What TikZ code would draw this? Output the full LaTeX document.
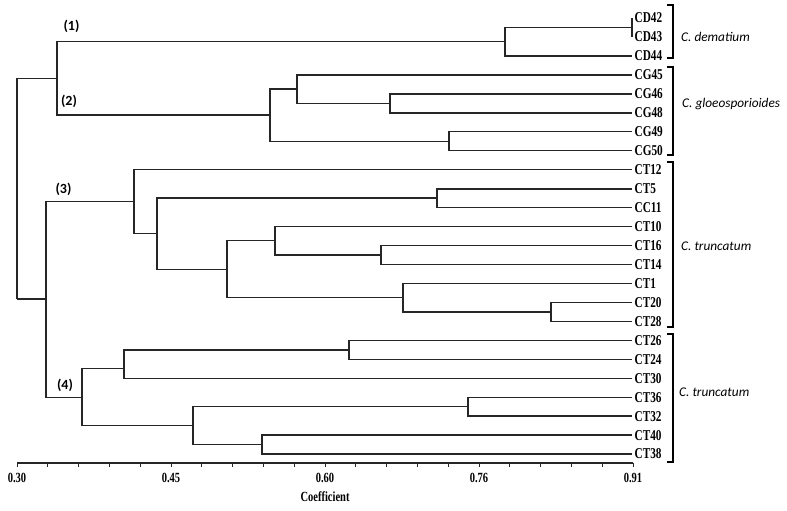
\documentclass[tikz,border=0pt]{standalone}
\usepackage{graphicx}
\usepackage{fontspec}
\setmainfont{Liberation Serif}
\newfontfamily\spfont{Carlito}
\newcommand{\narrowtext}[2]{\scalebox{#1}[1]{#2}}
\begin{document}
\begin{tikzpicture}[x=1pt,y=-1pt,
  branch/.style={draw=black!85,line width=1.4pt},
  thickbranch/.style={draw=black!85,line width=2pt},
  leaflabel/.style={anchor=west,inner sep=0pt,font=\bfseries\fontsize{15}{15}\selectfont},
  species/.style={anchor=west,inner sep=0pt,font=\spfont\itshape\fontsize{13.3}{14}\selectfont},
  clabel/.style={inner sep=0pt,font=\spfont\bfseries\fontsize{14}{14}\selectfont},
  bracket/.style={draw=black,line width=1.6pt},
  ticklabel/.style={inner sep=0pt,font=\bfseries\fontsize{14}{14}\selectfont}]
\useasboundingbox (0,0) rectangle (787,511);
% leaves
\def\lx{632}
\foreach \name/\txt [count=\i from 0] in {L0/CD42,L1/CD43,L2/CD44,L3/CG45,L4/CG46,L5/CG48,L6/CG49,L7/CG50,L8/CT12,L9/CT5,L10/CC11,L11/CT10,L12/CT16,L13/CT14,L14/CT1,L15/CT20,L16/CT28,L17/CT26,L18/CT24,L19/CT30,L20/CT36,L21/CT32,L22/CT40,L23/CT38}{
  \coordinate (\name) at (\lx,{18+\i*18.96});
  \node[leaflabel] (\name t) at (634.5,{18+\i*18.96}) {\narrowtext{0.75}{\txt}};
}
% internal nodes
\coordinate (a) at (632,{18+0.5*18.96});
\coordinate (b) at (505,{(18+0.5*18.96+18+2*18.96)/2});
\coordinate (c) at (390,{18+4.5*18.96});
\coordinate (d) at (297,{(18+3*18.96+18+4.5*18.96)/2});
\coordinate (e) at (449,{18+6.5*18.96});
\coordinate (f) at (270,{(18+3.75*18.96+18+6.5*18.96)/2});
\coordinate (g) at (57,{(18+1.25*18.96+18+5.125*18.96)/2});
\coordinate (h) at (437,{18+9.5*18.96});
\coordinate (i) at (381,{18+12.5*18.96});
\coordinate (j) at (275,{18+11.75*18.96});
\coordinate (k) at (551,{18+15.5*18.96});
\coordinate (l) at (403,{18+14.75*18.96});
\coordinate (m) at (227,{18+13.25*18.96});
\coordinate (n) at (157,{18+11.375*18.96});
\coordinate (o) at (134,{18+9.6875*18.96});
\coordinate (p) at (349,{18+17.5*18.96});
\coordinate (q) at (124,{18+18.5*18.96});
\coordinate (r) at (468,{18+20.5*18.96});
\coordinate (s) at (262,{18+22.5*18.96});
\coordinate (t) at (193,{18+21.5*18.96});
\coordinate (u) at (82,{18+20*18.96});
\coordinate (v) at (46,{18+14.84375*18.96});
\coordinate (w) at (17,{18+14.84375*18.96});
\coordinate (wt) at (17,{18+3.1875*18.96});
% branches
\draw[branch] (a) |- (L0); \draw[branch] (a) |- (L1);
\draw[branch] (b) |- (a); \draw[branch] (b) |- (L2);
\draw[branch] (c) |- (L4); \draw[branch] (c) |- (L5);
\draw[branch] (d) |- (L3); \draw[branch] (d) |- (c);
\draw[branch] (e) |- (L6); \draw[branch] (e) |- (L7);
\draw[branch] (f) |- (d); \draw[branch] (f) |- (e);
\draw[branch] (g) |- (b); \draw[branch] (g) |- (f);
\draw[thickbranch] (h) |- (L9); \draw[branch] (h) |- (L10);
\draw[branch] (i) |- (L12); \draw[branch] (i) |- (L13);
\draw[branch] (j) |- (L11); \draw[branch] (j) |- (i);
\draw[branch] (k) |- (L15); \draw[branch] (k) |- (L16);
\draw[branch] (l) |- (L14); \draw[thickbranch] (l) |- (k);
\draw[branch] (m) |- (j); \draw[branch] (m) |- (l);
\draw[branch] (n) |- (h); \draw[branch] (n) |- (m);
\draw[branch] (o) |- (L8); \draw[branch] (o) |- (n);
\draw[branch] (p) |- (L17); \draw[branch] (p) |- (L18);
\draw[branch] (q) |- (p); \draw[branch] (q) |- (L19);
\draw[branch] (r) |- (L20); \draw[branch] (r) |- (L21);
\draw[thickbranch] (s) |- (L22); \draw[branch] (s) |- (L23);
\draw[branch] (t) |- (r); \draw[branch] (t) |- (s);
\draw[branch] (u) |- (q); \draw[branch] (u) |- (t);
\draw[branch] (v) |- (o); \draw[branch] (v) |- (u);
\draw[branch] (wt) |- (g);
\draw[branch] (wt) -- (w);
\draw[thickbranch] (w) -- (v);
% cluster labels
\node[clabel] (c1) at (71.5,26) {(1)};
\node[clabel] (c2) at (69,101) {(2)};
\node[clabel] (c3) at (63.5,189) {(3)};
\node[clabel] (c4) at (65,385) {(4)};
% brackets
\draw[bracket] (667,5) -- (673,5) -- (673,58) -- (667,58);
\draw[bracket] (667,67) -- (673,67) -- (673,155) -- (667,155);
\draw[bracket] (667,162) -- (673,162) -- (673,327) -- (667,327);
\draw[bracket] (667,334) -- (673,334) -- (673,462) -- (667,462);
\node[species] (s1) at (681,37) {C. dematium};
\node[species] (s2) at (682,104) {C. gloeosporioides};
\node[species] (s3) at (681,246) {C. truncatum};
\node[species] (s4) at (679,392) {C. truncatum};
% axis
\coordinate (ax0) at (17,463);
\coordinate (ax1) at (633,463);
\draw[branch] (ax0) -- (ax1);
\foreach \k in {0,...,20}{
  \draw[draw=black!85,line width=1pt] ({17+\k*30.8},463) -- ({17+\k*30.8},467);
}
\foreach \k/\lab in {0/0.30,5/0.45,10/0.60,15/0.76,20/0.91}{
  \node[ticklabel] (tl\k) at ({17+\k*30.8},478) {\narrowtext{0.75}{\lab}};
}
\node[ticklabel] (xt) at (325,497) {\narrowtext{0.75}{Coefficient}};
\end{tikzpicture}
\end{document}
